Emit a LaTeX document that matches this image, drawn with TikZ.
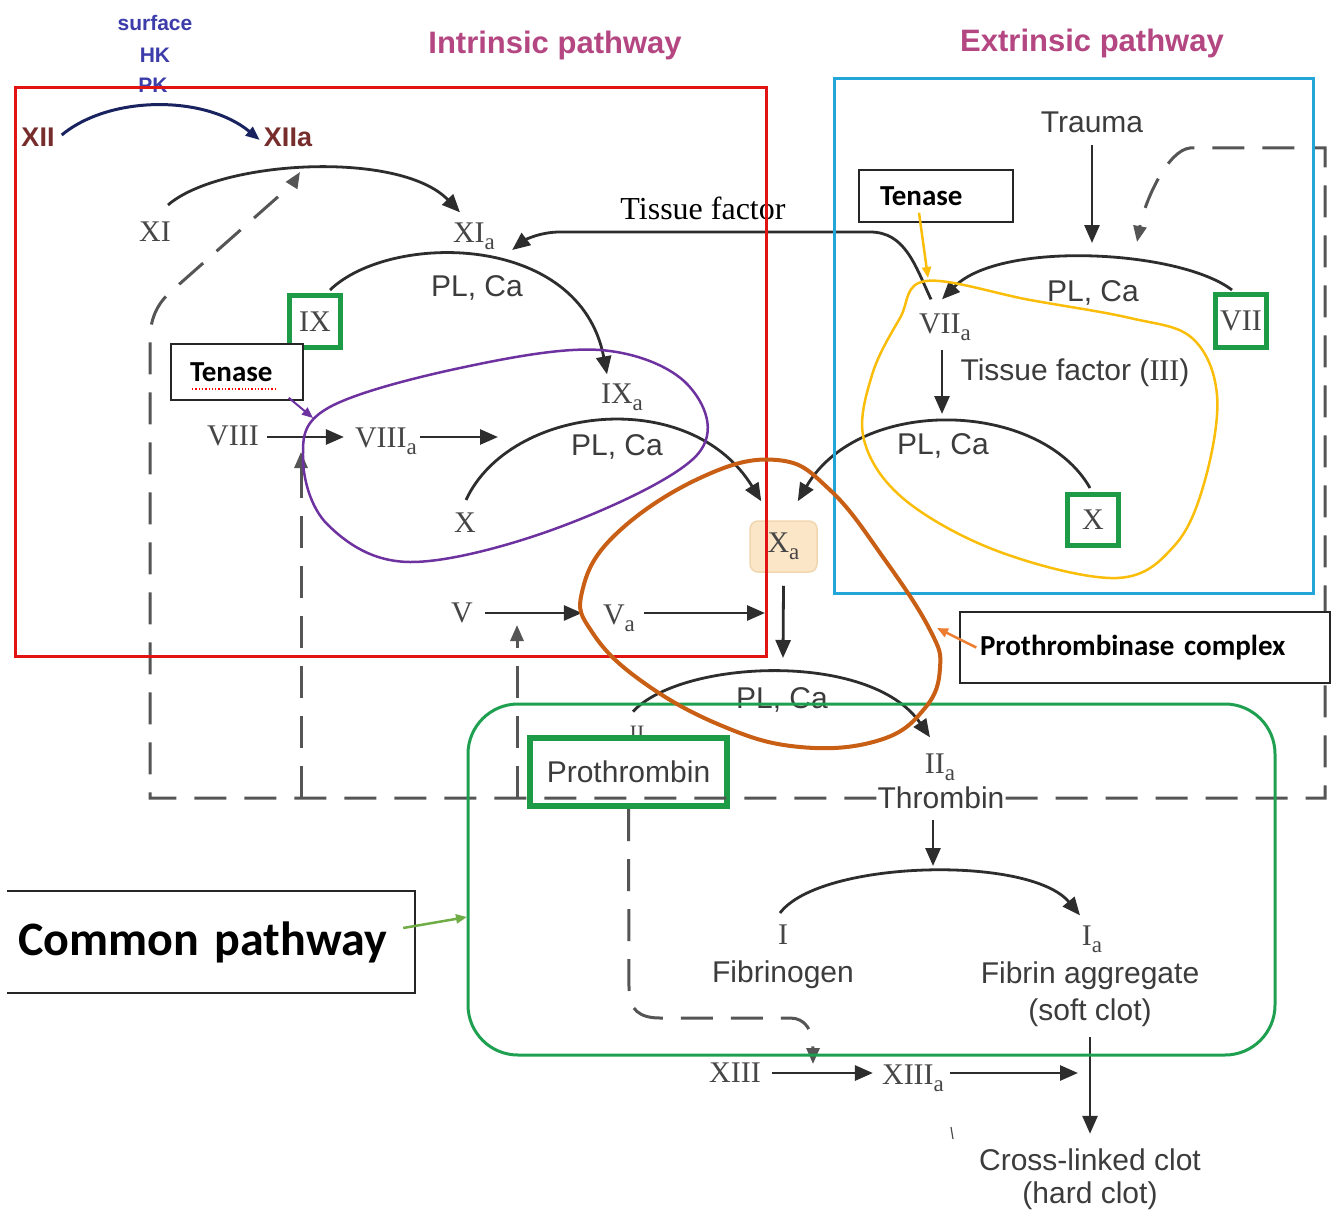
\documentclass[tikz,border=0pt]{standalone}
\usepackage{fontspec}
\setmainfont{Liberation Serif}
\setsansfont{Liberation Sans}
\newfontfamily\calib{Carlito}
\usetikzlibrary{arrows.meta}
\newcommand{\lowa}{\raisebox{-7pt}{\fontsize{23}{23}\selectfont a}}
\definecolor{numgray}{RGB}{70,70,70}
\definecolor{sgray}{RGB}{60,60,60}
\definecolor{arrgray}{RGB}{45,45,45}
\definecolor{dgray}{RGB}{85,85,85}
\definecolor{ttlpink}{RGB}{180,70,130}
\definecolor{surfblue}{RGB}{60,60,170}
\definecolor{xiired}{RGB}{120,45,45}
\definecolor{navyc}{RGB}{25,35,95}
\definecolor{redbox}{RGB}{225,20,20}
\definecolor{bluebox}{RGB}{35,165,215}
\definecolor{commongreen}{RGB}{30,160,80}
\definecolor{factorgreen}{RGB}{30,155,70}
\definecolor{loopyellow}{RGB}{250,190,10}
\definecolor{looppurple}{RGB}{110,50,160}
\definecolor{looporange}{RGB}{200,95,20}
\definecolor{arroworange}{RGB}{237,125,49}
\definecolor{arrowgreen}{RGB}{112,173,71}
\definecolor{xafill}{RGB}{252,230,200}
\definecolor{xadraw}{RGB}{240,215,175}
\begin{document}
\begin{tikzpicture}[x=1pt,y=-1pt,
  >={Triangle[length=18pt,width=15pt]},
  num/.style={font=\rmfamily\fontsize{30}{30}\selectfont,text=numgray,inner sep=1pt},
  lbl/.style={font=\sffamily\fontsize{30}{30}\selectfont,text=sgray,inner sep=1pt},
  ttl/.style={font=\sffamily\bfseries\fontsize{31}{31}\selectfont,text=ttlpink,inner sep=1pt},
  surf/.style={font=\sffamily\bfseries\fontsize{21}{21}\selectfont,text=surfblue,inner sep=1pt},
  xii/.style={font=\sffamily\bfseries\fontsize{27}{27}\selectfont,text=xiired,inner sep=1pt},
  arr/.style={draw=arrgray,line width=2.8pt,->},
  dsh/.style={draw=dgray,line width=3pt,dash pattern=on 32pt off 18pt},
  fbox/.style={draw=factorgreen,line width=5pt,inner sep=0pt},
  xabox/.style={fill=xafill,draw=xadraw,line width=1.5pt,rounded corners=8pt,minimum width=67pt,minimum height=51pt,inner sep=0pt},
  calloutbox/.style={draw=black!85,line width=1.5pt,fill=white,font=\calib\bfseries\fontsize{29}{29}\selectfont,align=left,text=black,inner ysep=0pt}
]
\fill[white] (0,0) rectangle (1332,1209);
\useasboundingbox (0,0) rectangle (1332,1209);

% titles and top labels
\node[ttl] (tIn) at (555,45) {Intrinsic pathway};
\node[ttl] (tEx) at (1092,43) {Extrinsic pathway};
\node[surf] (surf) at (155,23) {surface};
\node[surf] (hk) at (155,55) {HK};
\node[surf] (pk) at (153,85) {PK};
\node[xii] (XII) at (38,137) {XII};
\node[xii] (XIIa) at (288,137) {XIIa};

% intrinsic
\node[num] (XI) at (155,232) {XI};
\node[num] (XIa) at (474,236) {XI\lowa};
\node[num,fbox,minimum width=51pt,minimum height=52pt] (IX) at (315,321.5) {IX};
\node[num] (IXa) at (622,397) {IX\lowa};
\node[num] (VIII) at (233,436) {VIII};
\node[num] (VIIIa) at (386,441) {VIII\lowa};
\node[num] (X1) at (465,523) {X};
\node[num,xabox] (Xa) at (783.5,546.5) {X\lowa};
\node[num] (V) at (462,613) {V};
\node[num] (Va) at (619,618) {V\lowa};
\node[lbl] (pl1) at (477,288) {PL, Ca};
\node[lbl] (pl2) at (617,447) {PL, Ca};
\node[font=\rmfamily\fontsize{32}{32}\selectfont,inner sep=1pt] (TF) at (703,208) {Tissue factor};

% extrinsic
\node[lbl] (Trauma) at (1092,122) {Trauma};
\node[num,fbox,minimum width=51pt,minimum height=53pt] (VII) at (1241,321) {VII};
\node[num] (VIIa) at (945,327) {VII\lowa};
\node[lbl] (TF3) at (1075,373) {Tissue factor ({\rmfamily III})};
\node[num,fbox,minimum width=51pt,minimum height=51pt] (X2) at (1093,520) {X};
\node[lbl] (pl3) at (1093,293) {PL, Ca};
\node[lbl] (pl4) at (943,446) {PL, Ca};

% common
\node[num,font=\rmfamily\fontsize{22}{22}\selectfont] (II) at (637,733) {II};
\node[lbl,fbox,line width=6pt,minimum width=197pt,minimum height=68pt] (Pro) at (628.5,772) {Prothrombin};
\node[lbl] (pl5) at (782,700) {PL, Ca};
\node[num] (IIa) at (940,767) {II\lowa};
\node[lbl,fill=white] (Thr) at (941,798) {Thrombin};
\node[num] (I) at (783,935) {I};
\node[lbl] (Fib) at (783,975) {Fibrinogen};
\node[num] (Ia) at (1092,939) {I\lowa};
\node[lbl] (Fag1) at (1090,976) {Fibrin aggregate};
\node[lbl] (Fag2) at (1090,1013) {(soft clot)};
\node[num] (XIII) at (735,1073) {XIII};
\node[num] (XIIIa) at (913,1078) {XIII\lowa};
\node[lbl] (Cross1) at (1090,1160) {Cross-linked clot};
\node[lbl] (Cross2) at (1090,1196) {(hard clot)};

% named free ends
\coordinate (xiAct) at (300,172);
\coordinate (viiAct) at (1092,243);
\coordinate (viiAct2) at (1137,242);
\coordinate (xExtAct) at (942,414);
\coordinate (viiiaOut) at (498,437);
\coordinate (vaOut) at (765,613);
\coordinate (proAct) at (783,658);
\coordinate (fibAct) at (933,866);
\coordinate (xiiiaOut) at (1078,1073);
\coordinate (dBL) at (150,798);
\coordinate (dBR) at (1325,798);
\coordinate (dTR) at (1325,148);
\coordinate (dIn) at (301,798);
\coordinate (viiiAct) at (301,452);
\coordinate (dV) at (517,798);
\coordinate (vAct) at (517,625);
\coordinate (xiiiAct) at (813,1064);

% dashed feedback lines
\draw[dsh,-{Triangle[length=16pt,width=13pt]}] (Thr.west) -- (dBL) -- (150,340) .. controls (150,315) and (160,300) .. (175,288) -- (280,195) .. controls (288,187) and (295,180) .. (xiAct);
\draw[dsh,-{Triangle[length=16pt,width=13pt]}] (Thr.east) -- (dBR) -- (dTR) -- (1190,148) .. controls (1168,150) and (1145,200) .. (viiAct2);
\draw[dsh,-{Triangle[length=16pt,width=13pt]}] (dIn) -- (viiiAct);
\draw[dsh,-{Triangle[length=16pt,width=13pt]}] (dV) -- (vAct);
\draw[dsh,-{Triangle[length=16pt,width=13pt]}] (Pro.south) -- (629,990) .. controls (629,1010) and (640,1018) .. (660,1018) -- (790,1018) .. controls (805,1018) and (813,1030) .. (xiiiAct);

% solid connectors
\draw[navyc,line width=3pt,-{Triangle[length=14pt,width=11pt]}] ([shift={(6,-2)}]XII.east) .. controls (110,95) and (205,95) .. ([shift={(-3,3)}]XIIa.west);
\draw[arr] ([shift={(13,-16)}]XI.north) .. controls (220,160) and (400,150) .. ([shift={(-14,-9)}]XIa.north);
\draw[arr] ([shift={(15,-3)}]IX.north) .. controls (390,232) and (580,232) .. ([shift={(-15,-8)}]IXa.north);
\draw[arr] ([shift={(1,-12)}]X1.north) .. controls (510,405) and (690,385) .. ([shift={(12,-19)}]Xa.north west);
\draw[arr] ([shift={(-9,-2)}]VII.north) .. controls (1180,250) and (1000,240) .. ([shift={(-3,-13)}]VIIa.north);
\draw[arr] ([shift={(-3,-4)}]X2.north) .. controls (1040,400) and (860,395) .. ([shift={(-20,-19)}]Xa.north east);
\draw[arr] ([shift={(-14,-13)}]VIIa.north) .. controls (915,265) and (905,232) .. (870,232) -- (560,232) .. controls (540,232) and (525,240) .. ([shift={(16,14)}]XIa.east);
\draw[arr] ([shift={(0,11)}]Trauma.south) -- (viiAct);
\draw[arr] ([shift={(-3,8)}]VIIa.south) -- (xExtAct);
\draw[arr] ([shift={(7,1)}]VIII.east) -- ([shift={(-10,-4)}]VIIIa.west);
\draw[arr] ([shift={(2,-4)}]VIIIa.east) -- (viiiaOut);
\draw[arr] ([shift={(11,0)}]V.east) -- ([shift={(-20,-5)}]Va.west);
\draw[arr] ([shift={(8,-5)}]Va.east) -- (vaOut);
\draw[arr] ([shift={(0,13)}]Xa.south) -- (proAct);
\draw[arr] ([shift={(-4,-13)}]II.north) .. controls (680,660) and (870,650) .. ([shift={(-10,-15)}]IIa.north);
\draw[arr] ([shift={(-8,10)}]Thr.south) -- (fibAct);
\draw[arr] ([shift={(-3,-11)}]I.north) .. controls (820,860) and (1030,855) .. ([shift={(-12,-9)}]Ia.north);
\draw[arr] ([shift={(10,0)}]XIII.east) -- ([shift={(-8,-5)}]XIIIa.west);
\draw[arr] ([shift={(5,-5)}]XIIIa.east) -- (xiiiaOut);
\draw[arr] ([shift={(0,9)}]Fag2.south) -- ([shift={(0,-14)}]Cross1.north);
\draw[black!70,line width=1.2pt] (951,1127) -- (953,1139);

% coloured frames
\draw[redbox,line width=3pt] (15,88) rectangle (766,656);
\draw[bluebox,line width=3pt] (834,79) rectangle (1313,593);
\draw[commongreen,line width=3pt,rounded corners=50pt] (468,704) rectangle (1275,1055);

% loops
\draw[looppurple,line width=2.5pt] plot[smooth cycle,tension=0.6] coordinates {(303,458) (328,408) (460,368) (600,350) (688,385) (697,455) (560,527) (410,562) (328,525)};
\draw[loopyellow,line width=2.5pt] plot[smooth cycle,tension=0.6] coordinates {(926,281) (1030,300) (1130,318) (1192,338) (1217,395) (1205,480) (1175,545) (1117,578) (1000,552) (905,500) (864,440) (872,375) (900,318)};
\draw[looporange,line width=4pt] plot[smooth cycle,tension=0.7] coordinates {(777,460) (830,490) (885,560) (930,630) (940,668) (925,708) (880,740) (800,747) (720,725) (640,680) (592,632) (582,592) (615,535) (700,478)};

% callouts
\node[calloutbox,text width=94pt,inner xsep=19pt,minimum height=56pt] (TenL) at (237,372) {Tenase};
\draw[red,dotted,line width=1.3pt] (192,389) -- (277,389);
\node[calloutbox,text width=112pt,inner xsep=21pt,minimum height=52pt] (TenR) at (936,196) {Tenase};
\node[calloutbox,text width=330pt,inner xsep=20pt,minimum height=71pt] (Prothro) at (1145,647.5) {Prothrombinase complex};
\node[font=\calib\bfseries\fontsize{48}{48}\selectfont,text width=386pt,inner xsep=11pt,inner ysep=0pt,minimum height=102pt,align=left,fill=white] (CP) at (211,942) {Common pathway};
\draw[black!85,line width=1.5pt] (CP.north west) -- (CP.north east) -- (CP.south east) -- (CP.south west);

\coordinate (purpleTip) at (313,418);
\coordinate (yellowTip) at (928,278);
\coordinate (orangeTip) at (937,628);
\coordinate (greenTip) at (467,917);
\draw[looppurple,line width=2pt,-{Triangle[length=11pt,width=9pt]}] ([shift={(-15,-3)}]TenL.south east) -- (purpleTip);
\draw[loopyellow,line width=2.5pt,-{Triangle[length=11pt,width=9pt]}] ([shift={(-17,-10)}]TenR.south) -- (yellowTip);
\draw[arroworange,line width=2.5pt,-{Triangle[length=11pt,width=9pt]}] ([xshift=17pt]Prothro.west) -- (orangeTip);
\draw[arrowgreen,line width=2.5pt,-{Triangle[length=11pt,width=9pt]}] ([shift={(-12,-14)}]CP.east) -- (greenTip);
\end{tikzpicture}
\end{document}
